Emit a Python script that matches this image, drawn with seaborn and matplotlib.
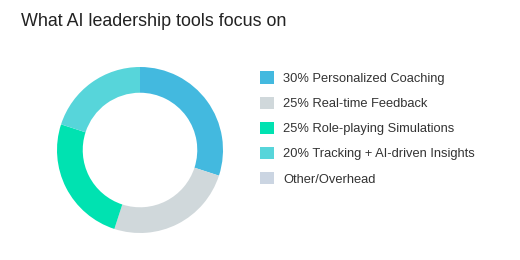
import matplotlib
matplotlib.use("Agg")
import matplotlib.pyplot as plt
import seaborn as sns
from matplotlib.patches import Patch

categories = ["Personalized Coaching", "Real-time Feedback", "Role-playing Simulations",
              "Tracking + AI-driven Insights", "Other/Overhead"]
values = [30, 25, 25, 20, 0]
legend_labels = ["30% Personalized Coaching", "25% Real-time Feedback",
                 "25% Role-playing Simulations", "20% Tracking + AI-driven Insights",
                 "Other/Overhead"]
colors = ["#43b9df", "#d0d8db", "#00e2b1", "#57d5da", "#cbd5e2"]

sns.set_theme(style="white")
plt.rcParams['font.family'] = ['Liberation Sans', 'DejaVu Sans']
palette = sns.color_palette(colors)

W, H = 520, 260
fig = plt.figure(figsize=(W / 100, H / 100), dpi=100)
fig.patch.set_facecolor("white")

cx, cy, R = 140, 150, 83
ax = fig.add_axes([(cx - R) / W, (H - cy - R) / H, 2 * R / W, 2 * R / H])
ax.pie(values, colors=palette, startangle=90, counterclock=False, radius=1,
       wedgeprops=dict(width=0.31, linewidth=0, edgecolor="none"))
ax.set_xlim(-1, 1)
ax.set_ylim(-1, 1)
ax.set_aspect("equal")
ax.axis("off")

fig.text(21 / W, 1 - 22 / H, "What AI leadership tools focus on", fontsize=12.9,
         color="#222222", va="center", ha="left")

handles = [Patch(facecolor=c, edgecolor="none") for c in palette]
fs = 9.3
fig.legend(handles, legend_labels, loc="upper left",
           bbox_to_anchor=(260 / W, 1 - 71.5 / H), frameon=False, fontsize=fs,
           handlelength=1.08, handleheight=1.08, handletextpad=0.7,
           labelspacing=0.90, borderpad=0, borderaxespad=0,
           labelcolor="#333333")

fig.savefig("out.png", dpi=100, facecolor="white")
